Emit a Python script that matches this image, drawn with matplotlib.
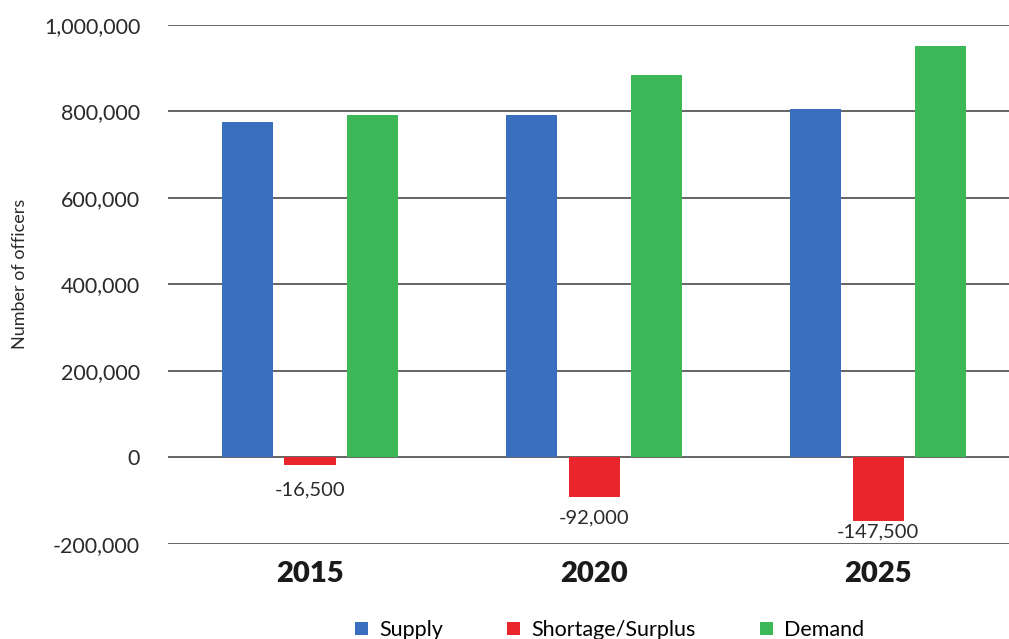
import numpy as np
import matplotlib.pyplot as plt

years = ["2015", "2020", "2025"]
supply = [776000, 792000, 805000]
shortage = [-16500, -92000, -147500]
demand = [792500, 884000, 952500]
series_names = ["Supply", "Shortage/Surplus", "Demand"]
colors = ["#3A6FBF", "#E8262B", "#3DB858"]

plt.rcParams['font.family'] = ['Lato', 'DejaVu Sans']

fig = plt.figure(figsize=(10.09, 6.39), dpi=100)
ax = fig.add_axes([0.1665, 0.1487, 0.8335, 0.8122])

x = np.arange(len(years))
w = 0.18
step = 0.22
for i, (vals, name, c) in enumerate(zip([supply, shortage, demand], series_names, colors)):
    ax.bar(x + (i - 1) * step, vals, width=w, color=c, label=name, zorder=3)

# labels under the shortage bars (last one squeezed above the bottom line)
label_drop = [-18, -14.5, -7.5]
for xi, v, d in zip(x, shortage, label_drop):
    ax.annotate(f"{v:,}", (xi, v), xytext=(0, d), textcoords="offset points",
                ha="center", va="center", fontsize=14.5, color="#2a2a2a")

ax.set_ylim(-200000, 1000000)
ax.set_xlim(-0.5, 2.46)
ax.set_yticks(np.arange(-200000, 1000001, 200000))
ax.yaxis.set_major_formatter(plt.FuncFormatter(lambda v, p: f"{int(v):,}"))
ax.grid(axis="y", color="#4a4a4a", linewidth=1.2, zorder=0)
ax.set_axisbelow(True)
for s in ax.spines.values():
    s.set_visible(False)

ax.tick_params(axis="y", length=0, pad=20, labelsize=15.5, labelcolor="#2a2a2a")
ax.set_xticks(x)
ax.set_xticklabels(years, fontsize=21, fontweight="heavy", color="#1a1a1a")
ax.tick_params(axis="x", length=0, pad=12)
ax.set_ylabel("Number of officers", fontsize=13, color="#2a2a2a")
ax.yaxis.set_label_coords(-0.166, 0.52)

ax.legend(loc="upper center", bbox_to_anchor=(0.525, -0.122), ncol=3, frameon=False,
          fontsize=15.5, handlelength=0.6, handleheight=0.6, columnspacing=3.0,
          handletextpad=0.5, borderaxespad=0.2)

fig.savefig("out.png", dpi=100)
